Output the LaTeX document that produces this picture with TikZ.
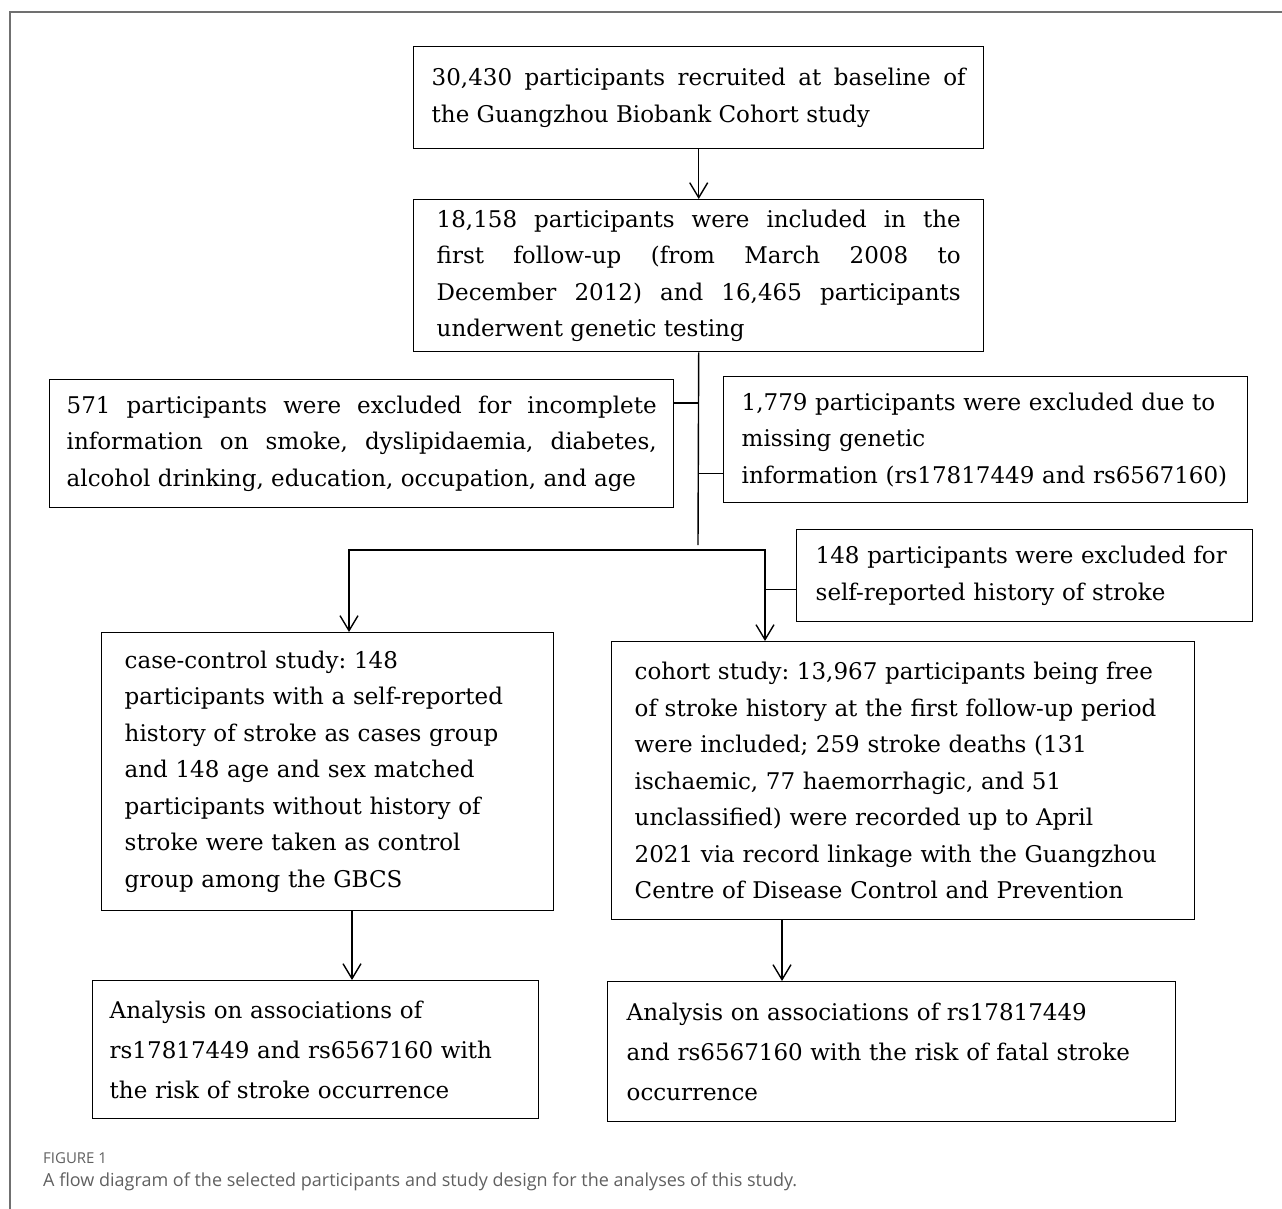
\documentclass[tikz,border=0pt]{standalone}
\usepackage{fontspec}
\setmainfont{DejaVu Serif}
\newfontfamily\capfont{Open Sans}
\usetikzlibrary{arrows.meta}
\definecolor{framegray}{RGB}{112,112,112}
\definecolor{capgray}{RGB}{96,96,96}
\frenchspacing

\begin{document}
\begin{tikzpicture}[x=1pt,y=-1pt,
   flowbox/.style={draw,line width=1.4pt,anchor=north west,align=left,inner ysep=0pt,
      font=\fontsize{23}{36.5}\selectfont},
   justbox/.style={flowbox,align=justify},
   capline/.style={anchor=base west,inner sep=0pt,text=capgray},
   >={Straight Barb[length=15pt,width=18pt]}]
         \useasboundingbox (0,0) rectangle (1282,1209) ;
         %\draw[very thin,gray,step=50] (0,0) grid (1282,1209) ;
         \draw[color=framegray,line width=1.5pt] (10,1209) -- (10,12) -- (1282,12) ;
         % boxes
         \node[justbox,text width=534,inner xsep=18,minimum height=102] (base) at (413,46)
         {30,430 participants recruited at baseline of\linebreak the Guangzhou Biobank Cohort study} ;
         \node[justbox,text width=524,inner xsep=23,minimum height=152] (first) at (413,199)
         {18,158 participants were included in the\linebreak first follow-up (from March 2008 to\linebreak
          December 2012) and 16,465 participants\linebreak underwent genetic testing} ;
         \node[justbox,text width=590,inner xsep=17,minimum height=128] (exinfo) at (49,379)
         {571 participants were excluded for incomplete\linebreak information on smoke, dyslipidaemia, diabetes,\linebreak
          alcohol drinking, education, occupation, and age} ;
         \node[flowbox,text width=488,inner xsep=18,minimum height=126] (exgene) at (723,376)
         {1,779 participants were excluded due to\\ missing genetic\\ information (rs17817449 and rs6567160)} ;
         \node[flowbox,text width=418,inner xsep=19,minimum height=92] (exstroke) at (796,529)
         {148 participants were excluded for\\ self-reported history of stroke} ;
         \node[flowbox,text width=406,inner xsep=23,minimum height=278] (casectl) at (101,632)
         {case-control study: 148\\ participants with a self-reported\\ history of stroke as cases group\\
          and 148 age and sex matched\\ participants without history of\\ stroke were taken as control\\
          group among the GBCS} ;
         \node[flowbox,text width=537,inner xsep=23,minimum height=278] (cohort) at (611,641)
         {cohort study: 13,967 participants being free\\ of stroke history at the first follow-up period\\
          were included; 259 stroke deaths (131\\ ischaemic, 77 haemorrhagic, and 51\\
          unclassified) were recorded up to April\\ 2021 via record linkage with the Guangzhou\\
          Centre of Disease Control and Prevention} ;
         \node[flowbox,text width=412,inner xsep=17,minimum height=138,
            font=\fontsize{23}{40}\selectfont] (assocA) at (92,980)
         {Analysis on associations of\\ rs17817449 and rs6567160 with\\ the risk of stroke occurrence} ;
         \node[flowbox,text width=530,inner xsep=19,minimum height=140,
            font=\fontsize{23}{40}\selectfont] (assocB) at (607,981)
         {Analysis on associations of rs17817449\\ and rs6567160 with the risk of fatal stroke\\ occurrence} ;
         % connectors
         \coordinate (trunk) at (698,545) ;
         \coordinate (split) at (698,550) ;
         \coordinate (cl) at ([yshift=-24pt]exinfo.north east) ;
         \coordinate (cr) at ([yshift=30pt]exgene.south west) ;
         \coordinate (ldrop) at ([xshift=248pt]casectl.north west) ;
         \coordinate (rdrop) at ([xshift=154pt]cohort.north west) ;
         \coordinate (gs) at ([yshift=-14pt]exstroke.west) ;
         \coordinate (ld) at ([xshift=251pt]casectl.south west) ;
         \coordinate (rd) at ([xshift=171pt]cohort.south west) ;
         \draw[line width=1.4pt,->] (base.south) -- (first.north) ;
         \draw[line width=1.4pt] (first.south) -- (trunk) ;
         \draw[line width=1.4pt] (cl) -- (cl -| trunk) ;
         \draw[line width=1.4pt] (cr -| trunk) -- (cr) ;
         \draw[line width=1.4pt,->] (split) -| (ldrop) ;
         \draw[line width=1.4pt,->] (split) -| (rdrop) ;
         \draw[line width=1.4pt] (gs -| rdrop) -- (gs) ;
         \draw[line width=1.4pt,->] (ld) -- (ld |- assocA.north) ;
         \draw[line width=1.4pt,->] (rd) -- (rd |- assocB.north) ;
         % caption
         \node[capline,font=\capfont\fontsize{15}{18}\selectfont] (figno) at (43,1163) {FIGURE 1} ;
         \node[capline,font=\capfont\fontsize{18}{22}\selectfont] (caption) at (43,1186)
         {A flow diagram of the selected participants and study design for the analyses of this study.} ;
\end{tikzpicture}
\end{document}
